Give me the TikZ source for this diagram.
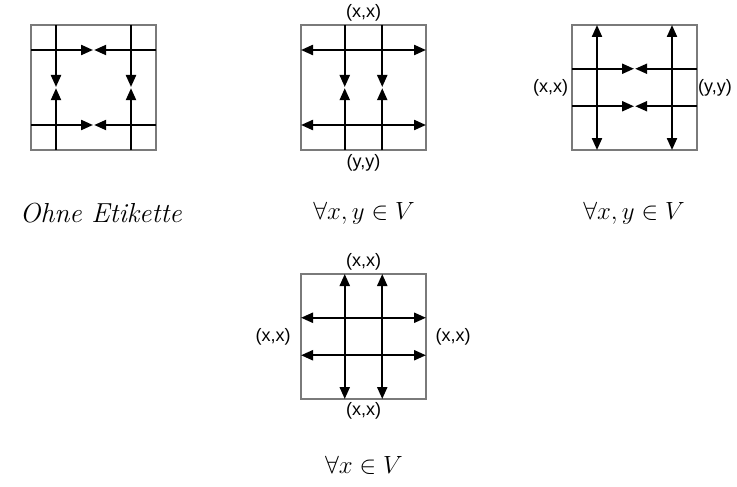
\documentclass[tikz,border=0pt]{standalone}
\usepackage{fontspec}
\newfontfamily\labfont{Liberation Sans}
\usetikzlibrary{arrows.meta}
\begin{document}
\begin{tikzpicture}[x=1pt,y=-1pt,
  boxframe/.style={draw=black!52, line width=2.2pt, minimum size=125pt, inner sep=0pt},
  bline/.style={line width=2.2pt, black},
  oneend/.style={-{Triangle[length=12pt,width=10pt]}},
  twoends/.style={{Triangle[length=12pt,width=10pt]}-{Triangle[length=12pt,width=10pt]}},
  lbl/.style={font=\labfont\fontsize{18}{21}\selectfont, inner sep=0pt},
  captext/.style={font=\fontsize{27.5}{32}\selectfont, inner sep=0pt}]
\useasboundingbox (0,0) rectangle (737,487);

% named coordinates for each panel
\foreach \p/\sx/\sy in {p1/31/25, p2/301/25, p3/572/25, p4/301/274}{
  \begin{scope}[shift={(\sx,\sy)}]
    \foreach \i/\f in {a/25, b/43.75, c/81.25, d/100}{
      \coordinate (\p-top-\i) at (\f,0);
      \coordinate (\p-bot-\i) at (\f,125);
      \coordinate (\p-lft-\i) at (0,\f);
      \coordinate (\p-rgt-\i) at (125,\f);
      \coordinate (\p-cu-\i) at (\f,62);
      \coordinate (\p-cd-\i) at (\f,63.2);
      \coordinate (\p-cl-\i) at (62,\f);
      \coordinate (\p-cr-\i) at (63.2,\f);
    }
  \end{scope}
}

% frames
\node[boxframe] (p1-box) at (93.5,87.5) {};
\node[boxframe] (p2-box) at (363.5,87.5) {};
\node[boxframe] (p3-box) at (634.5,87.5) {};
\node[boxframe] (p4-box) at (363.5,336.5) {};

% panel 1
\foreach \i in {a,d}{
  \draw[bline,oneend] (p1-top-\i) -- (p1-cu-\i);
  \draw[bline,oneend] (p1-bot-\i) -- (p1-cd-\i);
  \draw[bline,oneend] (p1-lft-\i) -- (p1-cl-\i);
  \draw[bline,oneend] (p1-rgt-\i) -- (p1-cr-\i);
}

% panel 2
\foreach \i in {a,d}{ \draw[bline,twoends] (p2-lft-\i) -- (p2-rgt-\i); }
\foreach \i in {b,c}{
  \draw[bline,oneend] (p2-top-\i) -- (p2-cu-\i);
  \draw[bline,oneend] (p2-bot-\i) -- (p2-cd-\i);
}

% panel 3
\foreach \i in {a,d}{ \draw[bline,twoends] (p3-top-\i) -- (p3-bot-\i); }
\foreach \i in {b,c}{
  \draw[bline,oneend] (p3-lft-\i) -- (p3-cl-\i);
  \draw[bline,oneend] (p3-rgt-\i) -- (p3-cr-\i);
}

% panel 4
\foreach \i in {b,c}{
  \draw[bline,twoends] (p4-lft-\i) -- (p4-rgt-\i);
  \draw[bline,twoends] (p4-top-\i) -- (p4-bot-\i);
}

% labels
\node[lbl] (l2t) at (363.5,13) {(x,x)};
\node[lbl] (l2b) at (363.5,163) {(y,y)};
\node[lbl] (l3l) at (550.5,88) {(x,x)};
\node[lbl] (l3r) at (715,88) {(y,y)};
\node[lbl] (l4t) at (363.5,262) {(x,x)};
\node[lbl] (l4b) at (363.5,411) {(x,x)};
\node[lbl] (l4l) at (273,337) {(x,x)};
\node[lbl] (l4r) at (453,337) {(x,x)};

% captions
\node[captext] (c1) at (101,213) {\textit{Ohne Etikette}};
\node[captext] (c2) at (364,213) {$\forall x, y \in V$};
\node[captext] (c3) at (634,213) {$\forall x, y \in V$};
\node[captext] (c4) at (364,465) {$\forall x \in V$};
\end{tikzpicture}
\end{document}
